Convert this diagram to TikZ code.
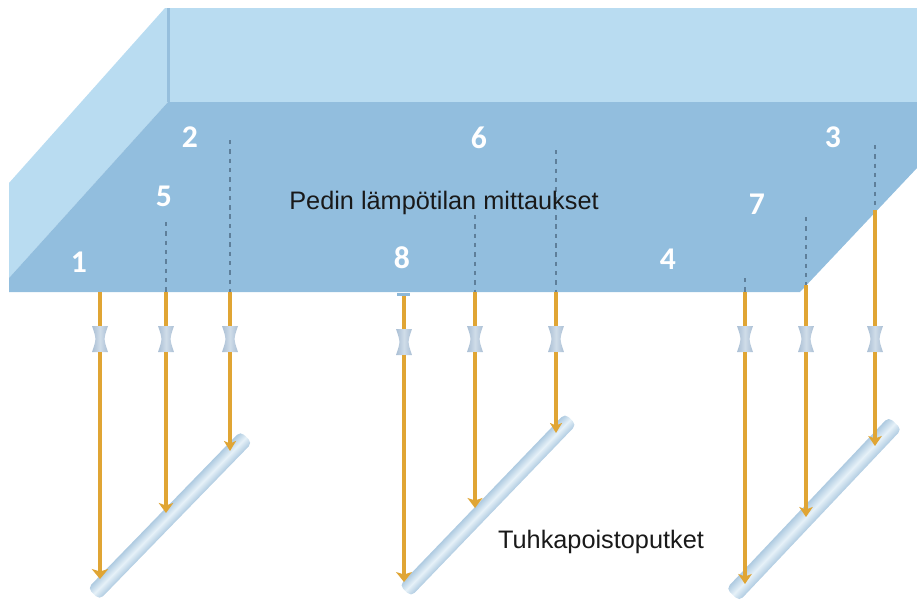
\documentclass[tikz,border=0pt]{standalone}
\usepackage{fontspec}
\setmainfont{Liberation Sans}
\newfontfamily\numfont{Carlito}
\usetikzlibrary{arrows.meta}
\definecolor{wallblue}{HTML}{B9DCF1}
\definecolor{floorblue}{HTML}{92BEDE}
\definecolor{edgeblue}{HTML}{8DB8D8}
\definecolor{feedorange}{HTML}{E0A534}
\definecolor{dashgray}{HTML}{5E7F9A}
\definecolor{valveedge}{HTML}{A9BED4}
\definecolor{valvemid}{HTML}{D0DDE9}
\definecolor{pipeedge}{HTML}{AFCBE1}
\definecolor{pipemid}{HTML}{E6F1F8}
\begin{document}
\begin{tikzpicture}[
  x=0.02cm, y=-0.02cm,
  number/.style={font=\numfont\bfseries\fontsize{18}{20}\selectfont, text=white, inner sep=0pt},
  caption/.style={font=\fontsize{14.4}{17}\selectfont, text=black!90, inner sep=0pt},
  valve/.style={minimum width=0.32cm, minimum height=0.52cm, inner sep=0pt,
    path picture={
      \shade[left color=valveedge, right color=valveedge, middle color=valvemid]
        (path picture bounding box.north west) -- (path picture bounding box.north east)
        .. controls ([xshift=-0.09cm]path picture bounding box.east) .. (path picture bounding box.south east)
        -- (path picture bounding box.south west)
        .. controls ([xshift=0.09cm]path picture bounding box.west) .. (path picture bounding box.north west) -- cycle;
    }},
  pipe/.style={rounded corners=0.1cm, inner sep=0pt,
    top color=pipeedge, bottom color=pipeedge, middle color=pipemid},
  feed/.style={draw=feedorange, line width=1.95pt},
  feedarrow/.style={feed, -{Stealth[length=2mm, width=#1mm, inset=0.5mm]}},
  hidden/.style={draw=dashgray, line width=0.7pt, dash pattern=on 2.5pt off 2.8pt}
]
\useasboundingbox (0,0) rectangle (917,599);

% Bed walls and floor
\fill[wallblue] (168,8) rectangle (917,102);
\fill[wallblue] (9,183) -- (165,8) -- (168,8) -- (168,102) -- (9,278) -- cycle;
\fill[floorblue] (168,102) -- (917,102) -- (917,168) -- (800,292) -- (9,292) -- (9,278) -- cycle;
\draw[edgeblue!80!wallblue, line width=1.6pt] (168.5,8) -- (168.5,102);

% Ash pipes
\node[pipe, minimum width=4.38cm, minimum height=0.33cm, transform canvas={rotate around={22.9:(170,515.5)}}] (p1) at (170,515.5) {};
\node[pipe, minimum width=4.77cm, minimum height=0.32cm, transform canvas={rotate around={23.05:(488,505)}}] (p2) at (488,505) {};
\node[pipe, minimum width=4.73cm, minimum height=0.36cm, transform canvas={rotate around={23.3:(814,509)}}] (p3) at (814,509) {};

% Valves
\node[valve] (v1) at (100,339) {};
\node[valve] (v5) at (166,339) {};
\node[valve] (v2) at (230,339) {};
\node[valve] (v8) at (404,342) {};
\node[valve] (v6) at (475,339) {};
\node[valve] (v9) at (556,339) {};
\node[valve] (v4) at (745,339) {};
\node[valve] (v7) at (806,339) {};
\node[valve] (v3) at (875,339) {};

% Dashed parts inside the bed
\coordinate (d5) at (166,222);
\coordinate (e5) at (166,292);
\coordinate (d2) at (230,140);
\coordinate (e2) at (230,292);
\coordinate (d6) at (475,215);
\coordinate (e6) at (475,292);
\coordinate (d9) at (556,150);
\coordinate (e9) at (556,292);
\coordinate (d4) at (745,278);
\coordinate (e4) at (745,292);
\coordinate (d7) at (806,217);
\coordinate (e7) at (806,285);
\coordinate (d3) at (875,145);
\coordinate (e3) at (875,210);
\draw[hidden] (d5) -- (e5);
\draw[hidden] (d2) -- (e2);
\draw[hidden] (d6) -- (e6);
\draw[hidden] (d9) -- (e9);
\draw[hidden] (d4) -- (e4);
\draw[hidden] (d7) -- (e7);
\draw[hidden] (d3) -- (e3);

% Feed lines above the valves
\coordinate (e1) at (100,292);
\coordinate (e8) at (404,296);
\draw[feed] (e1) -- (v1);
\draw[feed] (e5) -- (v5);
\draw[feed] (e2) -- (v2);
\draw[feed] (e8) -- (v8);
\draw[feed] (e6) -- (v6);
\draw[feed] (e9) -- (v9);
\draw[feed] (e4) -- (v4);
\draw[feed] (e7) -- (v7);
\draw[feed] (e3) -- (v3);

% Small tick above line 8
\node[fill=edgeblue, minimum width=0.27cm, minimum height=0.05cm, inner sep=0pt] (tick) at (403.5,294.5) {};

% Feed lines down to the pipes
\coordinate (t1) at (100,579);
\coordinate (t5) at (166,513);
\coordinate (t2) at (230,451);
\coordinate (t8) at (404,582);
\coordinate (t6) at (475,508);
\coordinate (t9) at (556,433);
\coordinate (t4) at (745,584);
\coordinate (t7) at (806,517);
\coordinate (t3) at (875,446);
\draw[feedarrow=3.3] (v1) -- (t1);
\draw[feedarrow=2.9] (v5) -- (t5);
\draw[feedarrow=2.4] (v2) -- (t2);
\draw[feedarrow=3.2] (v8) -- (t8);
\draw[feedarrow=3.0] (v6) -- (t6);
\draw[feedarrow=2.4] (v9) -- (t9);
\draw[feedarrow=2.7] (v4) -- (t4);
\draw[feedarrow=2.7] (v7) -- (t7);
\draw[feedarrow=2.7] (v3) -- (t3);

% Measurement numbers
\node[number] (n1) at (79,262) {1};
\node[number] (n2) at (190,137) {2};
\node[number] (n3) at (833,137) {3};
\node[number] (n4) at (668,259) {4};
\node[number] (n5) at (164,196) {5};
\node[number] (n6) at (479,138) {6};
\node[number] (n7) at (757,204) {7};
\node[number] (n8) at (402,258) {8};

% Labels
\node[caption] (bed) at (444,203) {Pedin lämpötilan mittaukset};
\node[caption] (ash) at (601,542) {Tuhkapoistoputket};

\end{tikzpicture}
\end{document}
